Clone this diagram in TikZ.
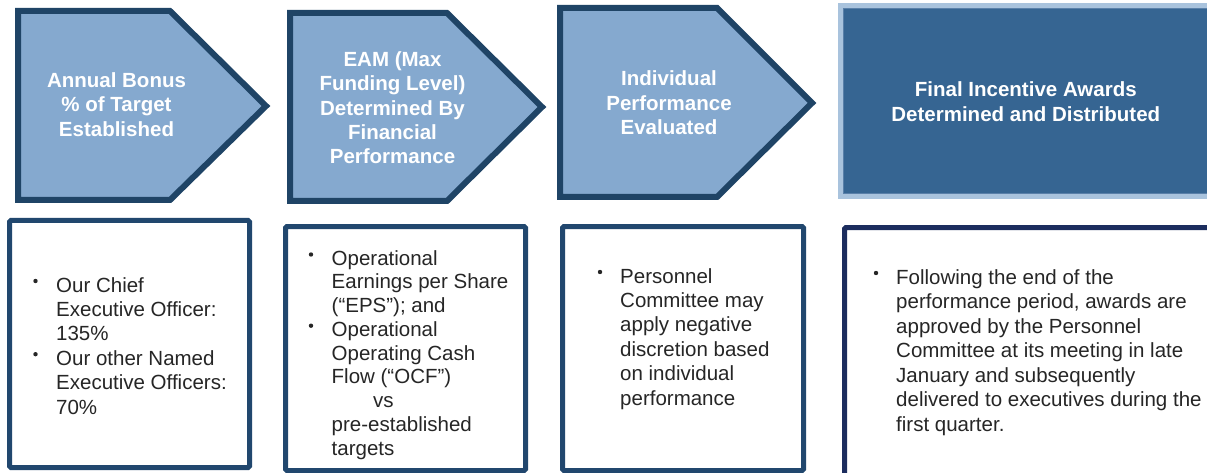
\documentclass[tikz,border=0pt]{standalone}
\usepackage{fontspec}
\setmainfont{Liberation Sans}
\definecolor{arrowfill}{HTML}{85A9CF}
\definecolor{arrowline}{HTML}{1F4466}
\definecolor{boxline}{HTML}{21476E}
\definecolor{navyline}{HTML}{1C2D5E}
\definecolor{finalfill}{HTML}{366592}
\definecolor{finaledge}{HTML}{5A80A9}
\definecolor{finalframe}{HTML}{A9C3DD}
\definecolor{textgray}{HTML}{262626}
\tikzset{
  chevron/.style={fill=arrowfill, draw=arrowline, line width=6pt, line join=miter},
  listbox/.style={draw=boxline, line width=5pt, fill=white, rounded corners=1.5pt},
  head/.style={text=white, font=\fontsize{20.5}{24.3}\selectfont\bfseries, align=center, inner sep=0pt, anchor=north},
  itemtext/.style={text=textgray, font=\fontsize{20.5}{#1}\selectfont, align=left, inner sep=0pt, anchor=north west},
  itemtext/.default={24.5},
  bul/.style={circle, fill=textgray, inner sep=0pt, minimum size=4.4pt}
}
\begin{document}
\begin{tikzpicture}[x=1pt,y=-1pt]
\useasboundingbox (0,0) rectangle (1207,473);
\clip (0,0) rectangle (1207,473);
\fill[white] (0,0) rectangle (1207,473);

% ---- top row: chevrons ----
\draw[chevron] (18,11) -- (170,11) -- (266,106) -- (170,200) -- (18,200) -- cycle;
\draw[chevron] (290,13) -- (447,13) -- (542,107) -- (447,201) -- (290,201) -- cycle;
\draw[chevron] (560,8) -- (717,8) -- (812,103) -- (717,197) -- (560,197) -- cycle;

% ---- final box ----
\draw[finalframe, line width=5pt] (840.5,5.5) rectangle (1215,196.8);
\draw[fill=finalfill, draw=finaledge, line width=1pt] (843.5,8.5) rectangle (1215,194);

% ---- header texts ----
\node[head] (h1) at (116.5,70.3) {\strut Annual Bonus\\\% of Target\\Established};
\node[head] (h2) at (392.5,49.3) {\strut EAM (Max\\Funding Level)\\Determined By\\Financial\\Performance};
\node[head] (h3) at (669,68.6) {\strut Individual\\Performance\\Evaluated};
\node[head] (h4) at (1025.8,79.6) {\strut Final Incentive Awards\\Determined and Distributed};

% ---- lower boxes ----
\draw[listbox] (9.5,220.5) rectangle (249.5,467.5);
\draw[listbox] (285.5,226.5) rectangle (525.5,470.5);
\draw[listbox] (562.5,226.5) rectangle (803.5,470.5);
\draw[listbox, draw=navyline] (844.5,227.5) rectangle (1220,490);

% box 1
\node[bul] (b1a) at (35.5,281) {};
\node[itemtext={24.4}] (t1a) at (56,274.9) {\strut Our Chief\\Executive Officer:\\135\%};
\node[bul] (b1b) at (35.5,354.2) {};
\node[itemtext={24.4}] (t1b) at (56,348.1) {\strut Our other Named\\Executive Officers:\\70\%};

% box 2
\node[bul] (b2a) at (311,254.5) {};
\node[itemtext={23.75}] (t2a) at (331.5,248.4) {\strut Operational\\Earnings per Share\\(“EPS”); and};
\node[bul] (b2b) at (311,325.7) {};
\node[itemtext={23.75}] (t2b) at (331.5,319.6) {\strut Operational\\Operating Cash\\Flow (“OCF”)};
\node[itemtext={23.75}] (t2c) at (373,391) {\strut vs};
\node[itemtext={23.75}] (t2d) at (331.5,414.7) {\strut pre-established\\targets};

% box 3
\node[bul] (b3a) at (600,272) {};
\node[itemtext={24.4}] (t3a) at (620,265.9) {\strut Personnel\\Committee may\\apply negative\\discretion based\\on individual\\performance};

% box 4
\node[bul] (b4a) at (876,273) {};
\node[itemtext={24.5}] (t4a) at (896,266.9) {\strut Following the end of the\\performance period, awards are\\approved by the Personnel\\Committee at its meeting in late\\January and subsequently\\delivered to executives during the\\first quarter.};
\end{tikzpicture}
\end{document}
